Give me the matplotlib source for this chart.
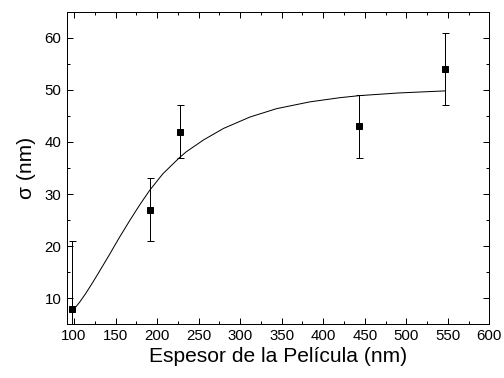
import numpy as np
import matplotlib.pyplot as plt
from matplotlib.ticker import MultipleLocator

plt.rcParams["font.family"] = ["Liberation Sans", "DejaVu Sans"]

# measured points
thickness_nm = [97, 192, 227, 443, 546]
sigma_nm = [8, 27, 42, 43, 54]
sigma_err = [13, 6, 5, 6, 7]

# fitted curve
fit_x = [97, 100, 107, 114, 122, 130, 142, 154, 167, 179, 191, 207, 227, 235,
         256, 280, 312, 344, 384, 420, 444, 490, 546]
fit_y = [7.4, 7.9, 9.3, 10.9, 12.9, 15.0, 18.2, 21.5, 24.9, 27.9, 30.7, 33.9,
         37.0, 38.1, 40.4, 42.6, 44.8, 46.4, 47.7, 48.5, 48.9, 49.4, 49.8]

fig = plt.figure(figsize=(7, 5.25), dpi=72)
ax = fig.add_axes([0.132, 0.142, 0.839, 0.827])

ax.plot(fit_x, fit_y, color="black", lw=1.0)
ax.errorbar(thickness_nm, sigma_nm, yerr=sigma_err, fmt="s", color="black",
            ms=6, elinewidth=1.0, capsize=3.5, capthick=1.0)

ax.set_xlim(91, 600)
ax.set_ylim(5, 65)
ax.xaxis.set_major_locator(MultipleLocator(50))
ax.xaxis.set_minor_locator(MultipleLocator(25))
ax.yaxis.set_major_locator(MultipleLocator(10))
ax.yaxis.set_minor_locator(MultipleLocator(5))
ax.set_yticks([10, 20, 30, 40, 50, 60])

ax.tick_params(which="both", direction="in", top=True, right=True,
               labelsize=15, width=1.0)
ax.tick_params(which="major", length=6, pad=5)
ax.tick_params(which="minor", length=3)
for s in ax.spines.values():
    s.set_linewidth(1.0)

ax.set_xlabel("Espesor de la Película (nm)", fontsize=21, labelpad=4)
ax.set_ylabel("σ (nm)", fontsize=21, labelpad=9)

plt.savefig("out.png", dpi=72)
